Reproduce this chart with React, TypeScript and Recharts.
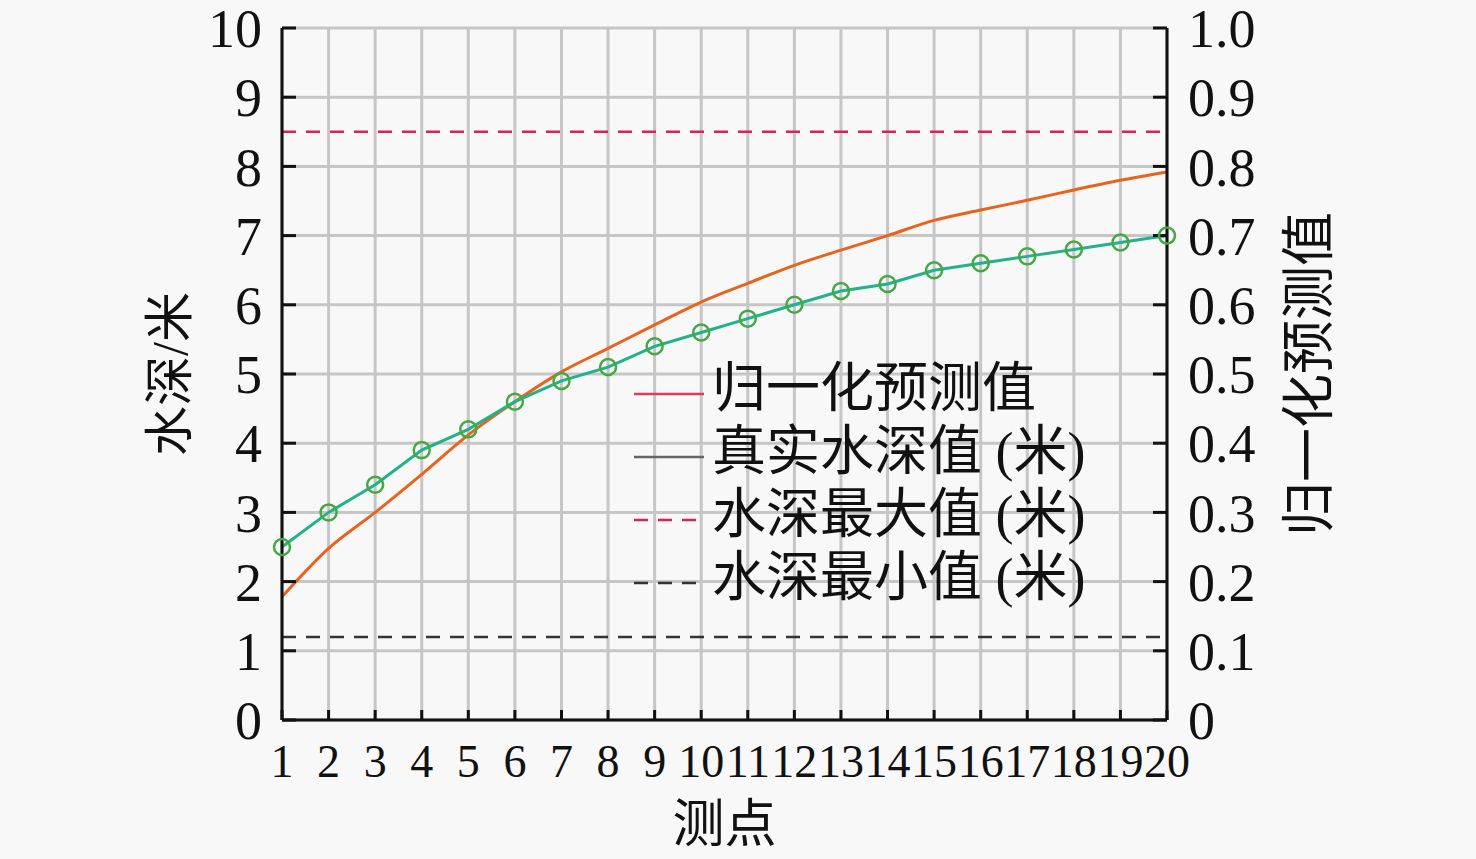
// Water depth vs normalized prediction chart

import {
  ComposedChart,
  Line,
  XAxis,
  YAxis,
  CartesianGrid,
  ReferenceLine,
} from 'recharts';

// Measurement points 1..20
const points = [1, 2, 3, 4, 5, 6, 7, 8, 9, 10, 11, 12, 13, 14, 15, 16, 17, 18, 19, 20];

// Real water depth (m), left axis
const realDepth = [2.5, 3.0, 3.4, 3.9, 4.2, 4.6, 4.9, 5.1, 5.4, 5.6, 5.8, 6.0, 6.2, 6.3, 6.5, 6.6, 6.7, 6.8, 6.9, 7.0];

// Normalized prediction, right axis
const normalizedPred = [0.178, 0.248, 0.3, 0.355, 0.412, 0.46, 0.503, 0.537, 0.571, 0.604, 0.631, 0.657, 0.679, 0.7, 0.722, 0.737, 0.751, 0.766, 0.78, 0.792];

const maxDepth = 8.5;
const minDepth = 1.2;

const leftTicks = [0, 1, 2, 3, 4, 5, 6, 7, 8, 9, 10];
const rightTicks = [0, 0.1, 0.2, 0.3, 0.4, 0.5, 0.6, 0.7, 0.8, 0.9, 1.0];

const legendItems = [
  { label: '归一化预测值', color: '#d8405a', dash: '' },
  { label: '真实水深值 (米)', color: '#666666', dash: '' },
  { label: '水深最大值 (米)', color: '#d62060', dash: '14 10' },
  { label: '水深最小值 (米)', color: '#333333', dash: '14 10' },
];

const data = points.map((p, i) => ({
  point: p,
  real: realDepth[i],
  pred: normalizedPred[i],
}));

const FONT = "'Liberation Serif', 'Times New Roman', 'Noto Sans CJK SC', serif";

// rotated axis title, centred on the axis box
function axisTitle(value: string, offset: number, size: number) {
  return (props: any) => {
    const vb = props.viewBox;
    const cx = vb.x + offset;
    const cy = vb.y + vb.height / 2;
    return (
      <text
        x={cx}
        y={cy}
        transform={`rotate(-90 ${cx} ${cy})`}
        textAnchor="middle"
        dominantBaseline="central"
        fill="#111"
        fontSize={size}
        fontFamily={FONT}
      >
        {value}
      </text>
    );
  };
}

export default function App() {
  return (
    <div
      style={{
        position: 'fixed',
        left: 0,
        top: 0,
        width: 1476,
        height: 859,
        background: '#f8f8f8',
        fontFamily: FONT,
      }}
    >
      <ComposedChart
        width={1476}
        height={859}
        data={data}
        margin={{ top: 28, right: 0, bottom: 0, left: 0 }}
      >
        <CartesianGrid yAxisId="left" stroke="#c6c6c6" strokeWidth={3} />
        <XAxis
          dataKey="point"
          type="number"
          domain={[1, 20]}
          ticks={points}
          interval={0}
          height={139}
          stroke="#111"
          strokeWidth={3}
          tickSize={-10}
          tickMargin={34}
          tick={{ fill: '#111', fontSize: 46, fontFamily: FONT }}
          label={{
            value: '测点',
            position: 'insideBottom',
            offset: 17,
            fill: '#111',
            fontSize: 52,
            fontFamily: FONT,
          }}
        />
        <YAxis
          yAxisId="left"
          domain={[0, 10]}
          ticks={leftTicks}
          interval={0}
          width={282}
          stroke="#111"
          strokeWidth={3}
          tickSize={-14}
          tickMargin={34}
          tick={{ fill: '#111', fontSize: 54, fontFamily: FONT }}
          label={axisTitle('水深/米', 170, 50)}
        />
        <YAxis
          yAxisId="right"
          orientation="right"
          domain={[0, 1]}
          ticks={rightTicks}
          interval={0}
          tickFormatter={(v) => (v === 0 ? '0' : v.toFixed(1))}
          width={309}
          stroke="#111"
          strokeWidth={3}
          tickSize={-14}
          tickMargin={35}
          tick={{ fill: '#111', fontSize: 54, fontFamily: FONT }}
          label={axisTitle('归一化预测值', 143, 54)}
        />
        <ReferenceLine
          yAxisId="left"
          y={maxDepth}
          stroke="#d62060"
          strokeWidth={2.5}
          strokeDasharray="14 10"
        />
        <ReferenceLine
          yAxisId="left"
          y={minDepth}
          stroke="#333333"
          strokeWidth={2.5}
          strokeDasharray="14 10"
        />
        <Line
          yAxisId="right"
          dataKey="pred"
          type="monotone"
          stroke="#e8641e"
          strokeWidth={3}
          dot={false}
          isAnimationActive={false}
        />
        <Line
          yAxisId="left"
          dataKey="real"
          type="linear"
          stroke="#22b28a"
          strokeWidth={3}
          dot={{ r: 8, stroke: '#45a845', strokeWidth: 2.5, fill: 'none' }}
          isAnimationActive={false}
        />
      </ComposedChart>
      <div
        style={{
          position: 'absolute',
          left: 634,
          top: 358,
          lineHeight: '63px',
          fontSize: 54,
          color: '#111',
        }}
      >
        {legendItems.map((item) => (
          <div key={item.label} style={{ display: 'flex', alignItems: 'center', height: 63 }}>
            <svg width={76} height={20} style={{ marginRight: 2, marginTop: 8 }}>
              <line
                x1={0}
                y1={10}
                x2={70}
                y2={10}
                stroke={item.color}
                strokeWidth={2.5}
                strokeDasharray={item.dash || undefined}
              />
            </svg>
            <span style={{ whiteSpace: 'nowrap' }}>{item.label}</span>
          </div>
        ))}
      </div>
    </div>
  );
}
